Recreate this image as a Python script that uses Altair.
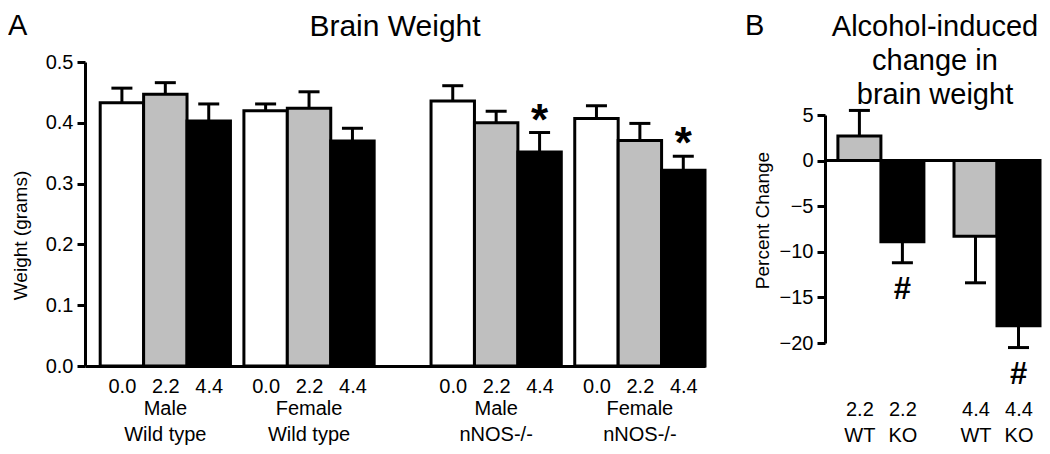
import json
import altair as alt
import pandas as pd

FONT = "Liberation Sans"

# ---------------- Panel A data (brain weight, grams) ----------------
group_sex = ["Male", "Female", "Male", "Female"]
group_geno = ["Wild type", "Wild type", "nNOS-/-", "nNOS-/-"]
doses = ["0.0", "2.2", "4.4"]
weight_mean = [
    [0.433, 0.447, 0.403],
    [0.420, 0.424, 0.370],
    [0.436, 0.400, 0.352],
    [0.407, 0.371, 0.322],
]
weight_sem = [
    [0.024, 0.019, 0.028],
    [0.011, 0.027, 0.021],
    [0.025, 0.019, 0.032],
    [0.021, 0.028, 0.023],
]
weight_sig = [
    ["", "", ""],
    ["", "", ""],
    ["", "", "*"],
    ["", "", "*"],
]

# ---------------- Panel B data (percent change) ----------------
change_dose = ["2.2", "2.2", "4.4", "4.4"]
change_geno = ["WT", "KO", "WT", "KO"]
change_mean = [2.7, -8.9, -8.3, -18.1]
change_sem = [2.8, 2.3, 5.1, 2.4]
change_sig = ["", "#", "", "#"]

# ---------------- layout helpers ----------------
A_W, A_H = 620, 304
B_W = 215
B_H = 281            # panel B view height (its y axis only spans the lower part)
B_TOP = 53           # pixel where the B y-axis starts inside its view
GAP_A = 0.31         # gap between neighbouring groups (in bar widths)
A_XMAX = 14.28
HEAD = 54            # room kept above the plot areas for titles


def group_start(gi):
    return 0.35 + gi * (3 + GAP_A) + (1.0 if gi >= 2 else 0.0)


def head_spacer():
    # invisible block that reserves the title band above a panel
    return alt.Chart(pd.DataFrame({"s": [0]})).mark_rect(
        fillOpacity=0, strokeWidth=0).encode(
        x=alt.value(0), x2=alt.value(1), y=alt.value(-HEAD), y2=alt.value(-HEAD + 10))


rows_a = []
for gi in range(len(group_sex)):
    s0 = group_start(gi)
    for di, d in enumerate(doses):
        m = weight_mean[gi][di]
        rows_a.append({
            "dose": d, "mean": m, "top": m + weight_sem[gi][di],
            "x0": s0 + di, "x1": s0 + di + 1, "xc": s0 + di + 0.5,
            "sig": weight_sig[gi][di],
        })
df_a = pd.DataFrame(rows_a)
df_groups = pd.DataFrame({
    "label": [f"{s}\n{g}" for s, g in zip(group_sex, group_geno)],
    "xg": [group_start(gi) + 1.5 for gi in range(len(group_sex))],
})
a_labels = [d for _ in group_sex for d in doses]
a_label_expr = f"{json.dumps(a_labels)}[round(datum.index*{len(a_labels) - 1})]"

xa = alt.Scale(domain=[0, A_XMAX], nice=False, zero=False)
ya = alt.Scale(domain=[0, 0.5], nice=False, zero=True)

bars_a = alt.Chart(df_a).mark_rect(stroke="black", strokeWidth=3).encode(
    x=alt.X("x0:Q", scale=xa, axis=alt.Axis(
        values=list(df_a["xc"]), labelExpr=a_label_expr, ticks=False, tickSize=0,
        domainWidth=3, labelFontSize=20, labelPadding=10, title=None, labelFlush=False)),
    x2="x1:Q",
    y=alt.Y("mean:Q", scale=ya, axis=alt.Axis(
        values=[0, 0.1, 0.2, 0.3, 0.4, 0.5], format=".1f", tickSize=8, tickWidth=3,
        domainWidth=3, labelFontSize=20, labelPadding=4, title="Weight (grams)",
        titleFontSize=19, titleFontWeight="normal", titlePadding=15, titleY=173)),
    y2=alt.datum(0),
    fill=alt.Fill("dose:N", scale=alt.Scale(domain=doses, range=["white", "#bfbfbf", "black"]),
                  legend=None),
)
err_a = alt.Chart(df_a).mark_rule(strokeWidth=3, color="black").encode(
    x="xc:Q", y="mean:Q", y2="top:Q")
cap_a = alt.Chart(df_a).mark_tick(orient="horizontal", size=21, thickness=3,
                                  color="black", opacity=1).encode(x="xc:Q", y="top:Q")
star_a = alt.Chart(df_a).transform_filter("datum.sig != ''").mark_text(
    fontSize=44, fontWeight="bold", baseline="alphabetic", dy=2, color="black").encode(
    x="xc:Q", y="top:Q", text="sig:N")
grp_a = alt.Chart(df_groups).mark_text(
    fontSize=20, baseline="top", lineBreak="\n", lineHeight=26, color="black").encode(
    x="xg:Q", y=alt.value(A_H + 33), text="label:N")
letter_a = alt.Chart(pd.DataFrame({"t": ["A"]})).mark_text(
    fontSize=29, align="left", baseline="alphabetic", color="black").encode(
    x=alt.value(-77), y=alt.value(-27), text="t:N")
title_a = alt.Chart(pd.DataFrame({"t": ["Brain Weight"]})).mark_text(
    fontSize=30, align="center", baseline="alphabetic", color="black").encode(
    x=alt.value(A_W / 2), y=alt.value(-26), text="t:N")

panel_a = alt.layer(head_spacer(), bars_a, err_a, cap_a, star_a, grp_a, letter_a,
                    title_a).properties(width=A_W, height=A_H)

# ---------------- Panel B ----------------
rows_b = []
for i in range(len(change_mean)):
    s0 = 0.3 + (i // 2) * 2.7 + (i % 2)
    m = change_mean[i]
    e = change_sem[i]
    rows_b.append({
        "geno": change_geno[i], "mean": m, "end": m + e if m >= 0 else m - e,
        "x0": s0, "x1": s0 + 1, "xc": s0 + 0.5, "sig": change_sig[i],
    })
df_b = pd.DataFrame(rows_b)
b_labels = [[d, g] for d, g in zip(change_dose, change_geno)]
b_label_expr = f"{json.dumps(b_labels)}[round(datum.index*{len(b_labels) - 1})]"

xb = alt.Scale(domain=[0, 5], nice=False, zero=False)
yb = alt.Scale(domain=[-20, 5], nice=False, range=[B_H, B_TOP])

zero_b = alt.Chart(pd.DataFrame({"z": [0]})).mark_rule(strokeWidth=3, color="black").encode(
    y=alt.Y("z:Q", scale=yb))
bars_b = alt.Chart(df_b).mark_rect(stroke="black", strokeWidth=3).encode(
    x=alt.X("x0:Q", scale=xb, axis=alt.Axis(
        values=list(df_b["xc"]), labelExpr=b_label_expr, ticks=False, tickSize=0,
        domain=False, labelFontSize=20, labelPadding=56, labelLineHeight=26,
        title=None, labelFlush=False)),
    x2="x1:Q",
    y=alt.Y("mean:Q", scale=yb, axis=alt.Axis(
        values=[-20, -15, -10, -5, 0, 5], format="d", tickSize=8, tickWidth=3,
        domainWidth=3, labelFontSize=20, labelPadding=4, title="Percent Change",
        titleFontSize=19, titleFontWeight="normal", titlePadding=7, titleY=158)),
    y2=alt.datum(0),
    fill=alt.Fill("geno:N", scale=alt.Scale(domain=["WT", "KO"], range=["#bfbfbf", "black"]),
                  legend=None),
)
err_b = alt.Chart(df_b).mark_rule(strokeWidth=3, color="black").encode(
    x="xc:Q", y="mean:Q", y2="end:Q")
cap_b = alt.Chart(df_b).mark_tick(orient="horizontal", size=21, thickness=3,
                                  color="black", opacity=1).encode(x="xc:Q", y="end:Q")
hash_b = alt.Chart(df_b).transform_filter("datum.sig != ''").mark_text(
    fontSize=31, fontWeight="bold", baseline="alphabetic", dy=36, color="black").encode(
    x="xc:Q", y="end:Q", text="sig:N")
letter_b = alt.Chart(pd.DataFrame({"t": ["B"]})).mark_text(
    fontSize=29, align="left", baseline="alphabetic", color="black").encode(
    x=alt.value(-80), y=alt.value(-27), text="t:N")
title_b = alt.Chart(pd.DataFrame({"t": ["Alcohol-induced\nchange in\nbrain weight"]})).mark_text(
    fontSize=29, align="center", baseline="alphabetic", lineBreak="\n", lineHeight=34,
    color="black").encode(x=alt.value(110), y=alt.value(-26), text="t:N")

panel_b = alt.layer(head_spacer(), zero_b, bars_b, err_b, cap_b, hash_b, letter_b,
                    title_b).properties(width=B_W, height=B_H)

chart = alt.hconcat(panel_a, panel_b, spacing=38).resolve_scale(
    fill="independent").properties(padding=0).configure_view(stroke=None).configure_axis(
    labelFont=FONT, titleFont=FONT, labelColor="black", titleColor="black",
    domainColor="black", tickColor="black", grid=False).configure_text(font=FONT)

chart.save("out.html", embed_options={"renderer": "svg", "actions": False})
